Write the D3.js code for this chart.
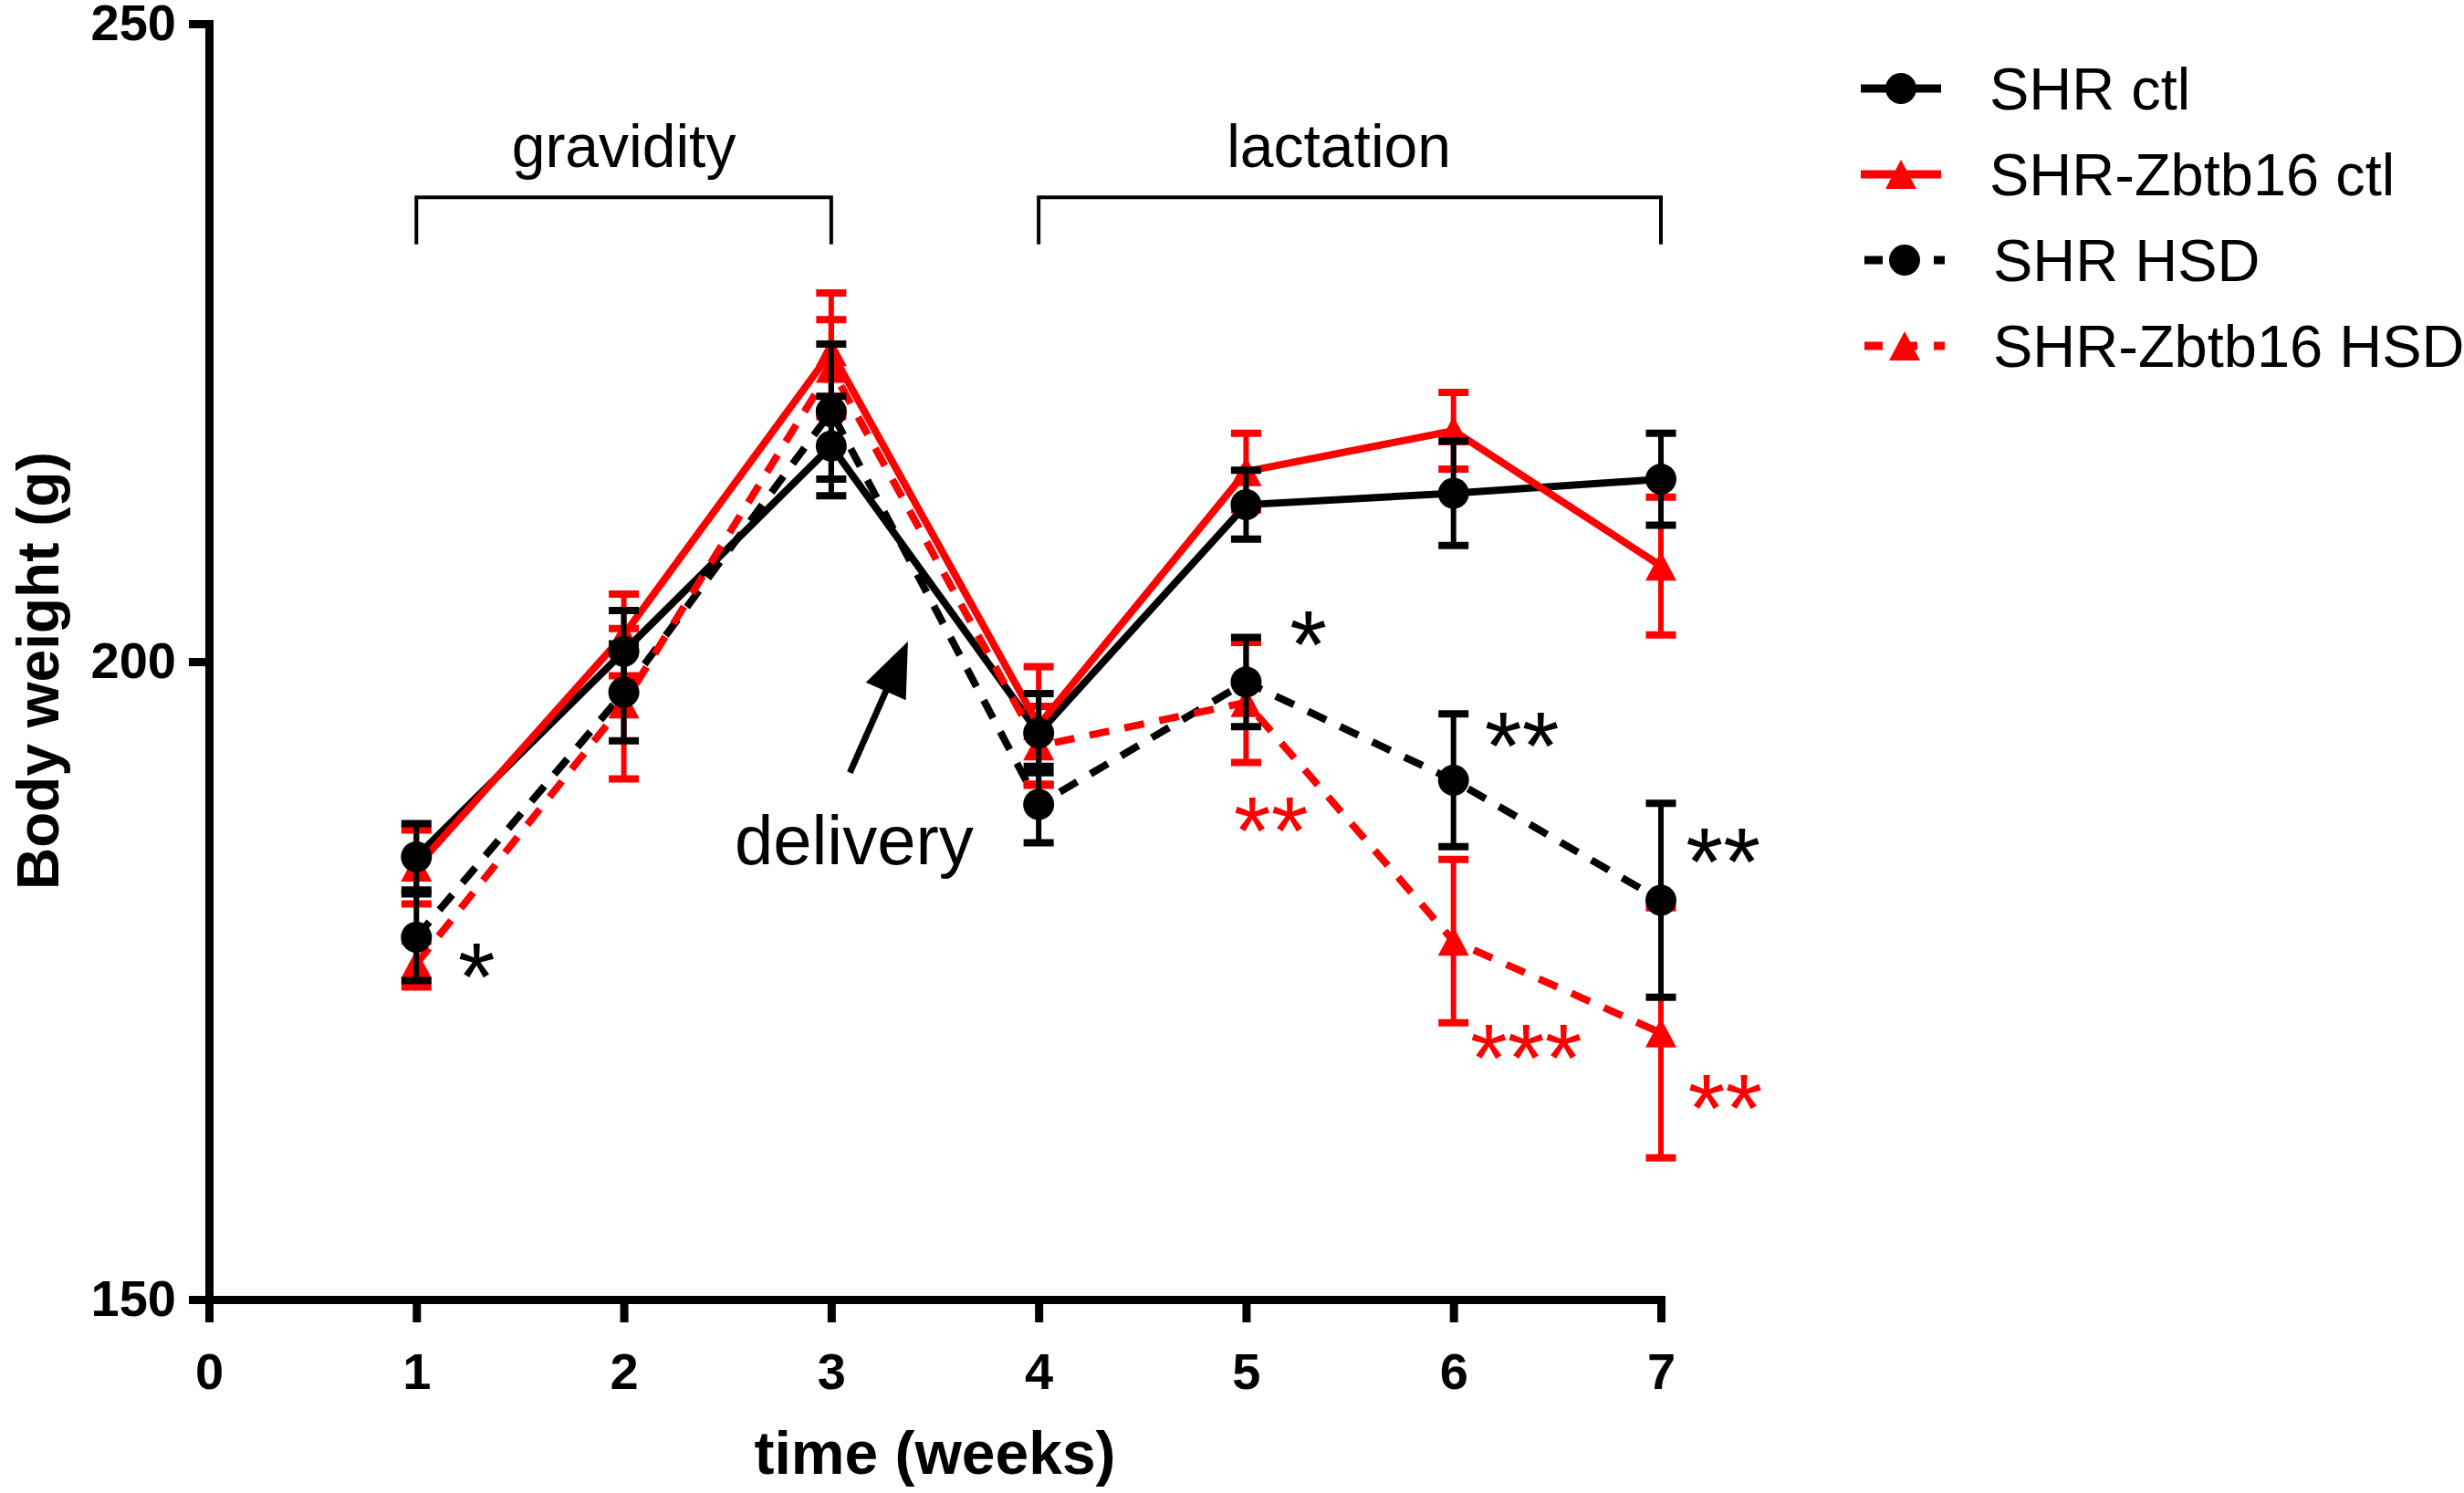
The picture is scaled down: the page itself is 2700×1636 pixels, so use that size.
<!DOCTYPE html>
<html>
<head>
<meta charset="utf-8">
<script src="https://cdn.jsdelivr.net/npm/d3@7"></script>
<style>
  body { margin: 0; background: #fff; }
  svg { display: block; font-family: "Liberation Sans", Arial, Helvetica, sans-serif; }
</style>
</head>
<body>
<div id="container"></div>
<script>
/* CONSTANTS AND GLOBALS */
const width = 2700;
const height = 1636;
const plot = {left: 229, right: 1820, top: 26, bottom: 1424};

// DATA - mean body weight (g) and SEM per week
const weeks = [1, 2, 3, 4, 5, 6, 7];
const xTicks = [0, 1, 2, 3, 4, 5, 6, 7];
const yTicks = [150, 200, 250];

const shrCtl       = [184.7, 200.8, 216.9, 194.4, 212.3, 213.2, 214.3];
const shrCtlErr    = [2.6, 3.2, 3.9, 3.1, 2.7, 4.1, 3.6];
const zbtbCtl      = [183.9, 202.1, 224.3, 195.0, 214.9, 218.1, 207.5];
const zbtbCtlErr   = [2.9, 3.2, 4.6, 4.6, 3.0, 3.0, 5.4];
const shrHsd       = [178.4, 197.6, 219.6, 188.8, 198.4, 190.7, 181.3];
const shrHsdErr    = [3.4, 3.8, 5.3, 3.0, 3.5, 5.2, 7.6];
const zbtbHsd      = [176.3, 196.7, 223.0, 193.4, 196.8, 178.1, 170.9];
const zbtbHsdErr   = [1.8, 5.9, 3.8, 3.1, 4.7, 6.4, 9.8];

const seriesNames = ["SHR ctl", "SHR-Zbtb16 ctl", "SHR HSD", "SHR-Zbtb16 HSD"];

// significance marks (anchor in week / gram units)
const sigText  = ["*", "*", "**", "**", "***", "**", "**"];
const sigWeek  = [1.29, 5.30, 5.12, 6.33, 6.35, 7.30, 7.31];
const sigValue = [177.0, 203.0, 188.4, 195.1, 170.6, 186.0, 166.7];
const sigGroup = ["SHR HSD", "SHR HSD", "SHR-Zbtb16 HSD", "SHR HSD", "SHR-Zbtb16 HSD", "SHR HSD", "SHR-Zbtb16 HSD"];

// phase brackets
const phaseNames = ["gravidity", "lactation"];
const phaseStart = [1, 4];
const phaseEnd   = [3, 7];

// styles
const styles = {
  "SHR ctl":        {color: "#000000", dashed: false, symbol: "circle"},
  "SHR-Zbtb16 ctl": {color: "#ff0000", dashed: false, symbol: "triangle"},
  "SHR HSD":        {color: "#000000", dashed: true,  symbol: "circle"},
  "SHR-Zbtb16 HSD": {color: "#ff0000", dashed: true,  symbol: "triangle"}
};

const series = [
  {name: seriesNames[0], values: shrCtl,  errors: shrCtlErr},
  {name: seriesNames[1], values: zbtbCtl, errors: zbtbCtlErr},
  {name: seriesNames[2], values: shrHsd,  errors: shrHsdErr},
  {name: seriesNames[3], values: zbtbHsd, errors: zbtbHsdErr}
].map(s => Object.assign(s, styles[s.name], {
  points: weeks.map((w, i) => ({week: w, value: s.values[i], err: s.errors[i]}))
}));

// SCALES
const xScale = d3.scaleLinear()
  .domain([0, 7])
  .range([plot.left, plot.right]);

const yScale = d3.scaleLinear()
  .domain([150, 250])
  .range([plot.bottom, plot.top]);

const svg = d3.select("#container")
  .append("svg")
  .attr("width", width)
  .attr("height", height);

svg.append("rect")
  .attr("width", width)
  .attr("height", height)
  .attr("fill", "#fff");

// marker shapes
const triangle = "M0,-16L17,16L-17,16Z";
function drawMarker(g, s, x, y) {
  if (s.symbol === "circle") {
    g.append("circle").attr("cx", x).attr("cy", y).attr("r", 17).attr("fill", s.color);
  } else {
    g.append("path").attr("d", triangle).attr("transform", `translate(${x},${y})`).attr("fill", s.color);
  }
}

//Axis
const yAxis = d3.axisLeft(yScale)
  .tickValues(yTicks)
  .tickFormat(d3.format("d"))
  .tickSize(22)
  .tickSizeOuter(0)
  .tickPadding(14);

const yAxisG = svg.append("g")
  .attr("transform", `translate(${plot.left},0)`)
  .call(yAxis);

const xAxis = d3.axisBottom(xScale)
  .tickValues(xTicks)
  .tickFormat(d3.format("d"))
  .tickSize(25)
  .tickSizeOuter(0)
  .tickPadding(33);

const xAxisG = svg.append("g")
  .attr("transform", `translate(0,${plot.bottom})`)
  .call(xAxis);

[yAxisG, xAxisG].forEach(g => {
  g.attr("font-family", null)
   .attr("font-size", 56)
   .attr("font-weight", "bold");
  g.select(".domain").attr("stroke", "#000").attr("stroke-width", 9).attr("stroke-linecap", "square");
  g.selectAll(".tick line").attr("stroke", "#000").attr("stroke-width", 9);
  g.selectAll(".tick text").attr("fill", "#000");
});

// Axis labels
svg.append("text")
  .attr("transform", `translate(64,${(plot.top + plot.bottom) / 2 + 10}) rotate(-90)`)
  .attr("text-anchor", "middle")
  .attr("font-size", 64)
  .attr("font-weight", "bold")
  .text("Body weight (g)");

svg.append("text")
  .attr("x", (plot.left + plot.right) / 2)
  .attr("y", 1615)
  .attr("text-anchor", "middle")
  .attr("font-size", 66)
  .attr("font-weight", "bold")
  .text("time (weeks)");

// Lines
const lineGen = d3.line()
  .x(d => xScale(d.week))
  .y(d => yScale(d.value));

svg.append("g")
  .selectAll("path")
  .data(series)
  .join("path")
    .attr("fill", "none")
    .attr("stroke", d => d.color)
    .attr("stroke-width", 8)
    .attr("stroke-linejoin", "miter")
    .attr("stroke-dasharray", d => d.dashed ? "22 17" : null)
    .attr("d", d => lineGen(d.points));

// Error bars and markers (red groups first, black on top)
const drawOrder = [1, 3, 0, 2];
drawOrder.forEach(k => {
  const s = series[k];
  const g = svg.append("g");
  s.points.forEach(p => {
    const x = xScale(p.week);
    const y0 = yScale(p.value - p.err);
    const y1 = yScale(p.value + p.err);
    g.append("line")
      .attr("x1", x).attr("x2", x).attr("y1", y0).attr("y2", y1)
      .attr("stroke", s.color).attr("stroke-width", 6);
    [y0, y1].forEach(yc => {
      g.append("line")
        .attr("x1", x - 16.5).attr("x2", x + 16.5).attr("y1", yc).attr("y2", yc)
        .attr("stroke", s.color).attr("stroke-width", 8);
    });
  });
  s.points.forEach(p => drawMarker(g, s, xScale(p.week), yScale(p.value)));
});

// Significance
svg.append("g")
  .selectAll("text")
  .data(sigText)
  .join("text")
    .attr("x", (d, i) => xScale(sigWeek[i]))
    .attr("y", (d, i) => yScale(sigValue[i]) + 60)
    .attr("text-anchor", "middle")
    .attr("font-size", 105)
    .attr("fill", (d, i) => styles[sigGroup[i]].color)
    .text(d => d);

// Phase brackets
const bracketTop = 236.4;
const bracketLeg = 232.7;
phaseNames.forEach((name, i) => {
  const x1 = xScale(phaseStart[i]);
  const x2 = xScale(phaseEnd[i]);
  svg.append("path")
    .attr("d", `M${x1},${yScale(bracketLeg)}V${yScale(bracketTop)}H${x2}V${yScale(bracketLeg)}`)
    .attr("fill", "none")
    .attr("stroke", "#000")
    .attr("stroke-width", 4);
  svg.append("text")
    .attr("x", (x1 + x2) / 2 - (i === 1 ? 12 : 0))
    .attr("y", yScale(238.8))
    .attr("text-anchor", "middle")
    .attr("font-size", 66)
    .text(name);
});

// Delivery arrow
const tail = [xScale(3.09), yScale(191.3)];
const tip = [xScale(3.37), yScale(201.6)];
const ang = Math.atan2(tip[1] - tail[1], tip[0] - tail[0]);
const headLen = 60, headHalf = 24;
const base = [tip[0] - headLen * Math.cos(ang), tip[1] - headLen * Math.sin(ang)];
svg.append("line")
  .attr("x1", tail[0]).attr("y1", tail[1])
  .attr("x2", base[0] + 5 * Math.cos(ang)).attr("y2", base[1] + 5 * Math.sin(ang))
  .attr("stroke", "#000").attr("stroke-width", 7);
svg.append("path")
  .attr("d", `M${tip[0]},${tip[1]}L${base[0] - headHalf * Math.sin(ang)},${base[1] + headHalf * Math.cos(ang)}L${base[0] + headHalf * Math.sin(ang)},${base[1] - headHalf * Math.cos(ang)}Z`)
  .attr("fill", "#000");

svg.append("text")
  .attr("x", xScale(3.11))
  .attr("y", yScale(184.1))
  .attr("text-anchor", "middle")
  .attr("font-size", 76)
  .text("delivery");

// Legend
const legend = svg.append("g");
series.forEach((s, i) => {
  const rowY = 97 + i * 94;
  const shift = s.dashed ? 4 : 0;
  const row = legend.append("g").attr("transform", `translate(${shift},${rowY})`);
  row.append("line")
    .attr("x1", 2039).attr("x2", 2127).attr("y1", 0).attr("y2", 0)
    .attr("stroke", s.color)
    .attr("stroke-width", 9)
    .attr("stroke-dasharray", s.dashed ? "20 18" : null);
  drawMarker(row, s, 2083, 0);
  row.append("text")
    .attr("x", 2180)
    .attr("y", 23)
    .attr("font-size", 65)
    .text(s.name);
});
</script>
</body>
</html>
